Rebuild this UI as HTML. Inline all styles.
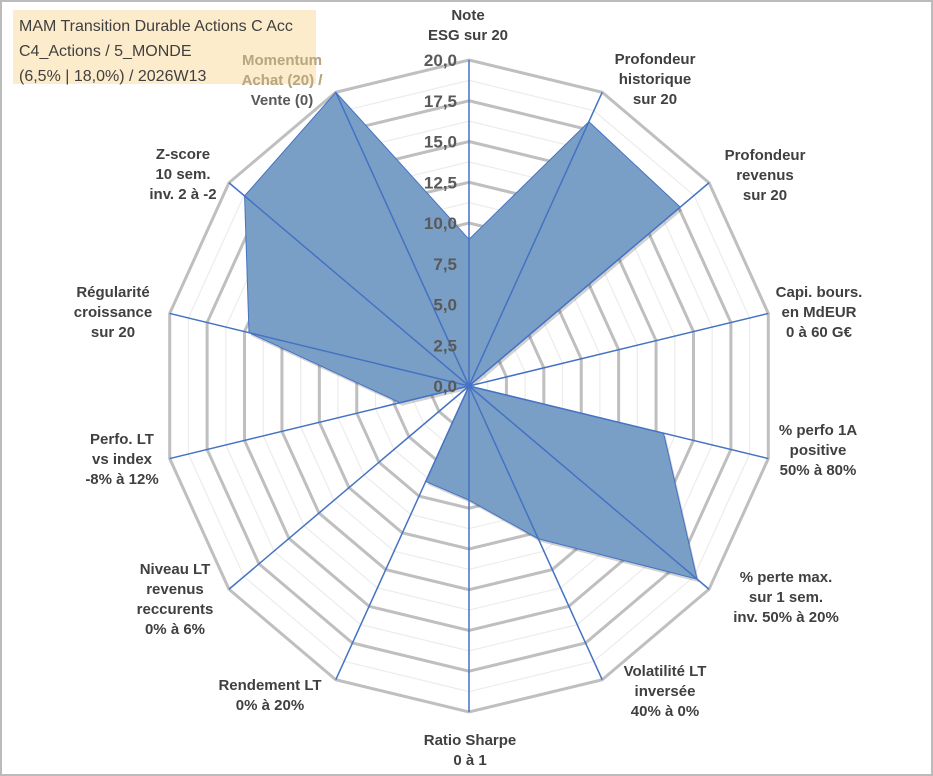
<!DOCTYPE html>
<html><head><meta charset="utf-8"><style>
body{margin:0;background:#fff;}
#wrap{position:relative;width:933px;height:776px;overflow:hidden;font-family:"Liberation Sans",Arial,sans-serif;}
svg{position:absolute;left:0;top:0}
</style></head><body>
<div id="wrap">
<svg id="chart" width="933" height="776"></svg>
</div>
<script>
const categories=[["Note","ESG sur 20"],["Profondeur","historique","sur 20"],["Profondeur","revenus","sur 20"],["Capi. bours.","en MdEUR","0 à 60 G€"],["% perfo 1A","positive","50% à 80%"],["% perte max.","sur 1 sem.","inv. 50% à 20%"],["Volatilité LT","inversée","40% à 0%"],["Ratio Sharpe","0 à 1"],["Rendement LT","0% à 20%"],["Niveau LT","revenus","reccurents","0% à 6%"],["Perfo. LT","vs index","-8% à 12%"],["Régularité","croissance","sur 20"],["Z-score","10 sem.","inv. 2 à -2"],["Momentum","Achat (20) /","Vente (0)"]];
const values=[9,18,17.6,0,13,19,10.4,7,6.5,0,4.6,14.7,18.7,20];
const tickLabels=["0,0","2,5","5,0","7,5","10,0","12,5","15,0","17,5","20,0"];
const maxVal=20;
const cx=469,cy=386,RX=307,RY=326;
const svg=document.getElementById('chart');
const NS='http://www.w3.org/2000/svg';
function mk(t,a){const e=document.createElementNS(NS,t);for(const k in a)e.setAttribute(k,a[k]);svg.appendChild(e);return e;}
const n=categories.length;
function ang(i){return i*2*Math.PI/n;}
function pt(i,v){const f=v/maxVal;return [cx+f*RX*Math.sin(ang(i)),cy-f*RY*Math.cos(ang(i))];}
let b=mk('rect',{x:1,y:1,width:931,height:774,fill:'none',stroke:'#bbb','stroke-width':2});


for(let k=1;k<=16;k++){
  const v=k*1.25;const major=k%2===0;
  const p=[];for(let i=0;i<n;i++)p.push(pt(i,v).join(','));
  const g=mk('polygon',{points:p.join(' '),fill:'none',stroke:major?'#bfbfbf':'#ececec','stroke-width':major?3:1.2});
  
  
}
const sp=values.map((v,i)=>pt(i,v).join(',')).join(' ');
const sh=mk('polygon',{points:sp,fill:'rgba(0,0,0,0.18)',transform:'translate(2,3)'});


const poly=mk('polygon',{points:sp,fill:'#7a9fc6',stroke:'#4472c4','stroke-width':1});


for(let i=0;i<n;i++){const [x,y]=pt(i,maxVal);const l=mk('line',{x1:cx,y1:cy,x2:x,y2:y,stroke:'#4472c4','stroke-width':1.5});

}
tickLabels.forEach((t,k)=>{const y=cy-k*2.5/maxVal*RY;const e=mk('text',{x:cx-12,y:y+6,'text-anchor':'end','font-size':17,'font-weight':'bold',fill:'#595959'});e.textContent=t;

});
const lblPos=[[468,20],[655,64],[765,160],[819,297],[818,435],[786,582],[665,676],[470,745],[270,690],[175,574],[122,444],[113,297],[183,159],[282,65]];
categories.forEach((c,i)=>{const [x,y]=lblPos[i];const e=mk('text',{x:x,y:y,'text-anchor':'middle','font-size':15,'font-weight':'bold',fill:(i===13?'#595959':'#404040')});


c.forEach((s,j)=>{const ts=document.createElementNS(NS,'tspan');ts.setAttribute('x',x);ts.setAttribute('dy',j?20:0);ts.textContent=s;e.appendChild(ts);});});
const tb=mk('rect',{x:13,y:10,width:303,height:74,fill:'#fde9c3',opacity:0.85});


["MAM Transition Durable Actions C Acc","C4_Actions / 5_MONDE","(6,5% | 18,0%) / 2026W13"].forEach((s,j)=>{const e=mk('text',{x:19,y:31+j*25,'font-size':16,fill:'#404040'});e.textContent=s;

});
const m=mk('text',{x:282,y:65,'text-anchor':'middle','font-size':15,'font-weight':'bold',fill:'#b8a77f'});


["Momentum","Achat (20) /"].forEach((s,j)=>{const ts=document.createElementNS(NS,'tspan');ts.setAttribute('x',282);ts.setAttribute('dy',j?20:0);ts.textContent=s;m.appendChild(ts);});
</script>
</body></html>
